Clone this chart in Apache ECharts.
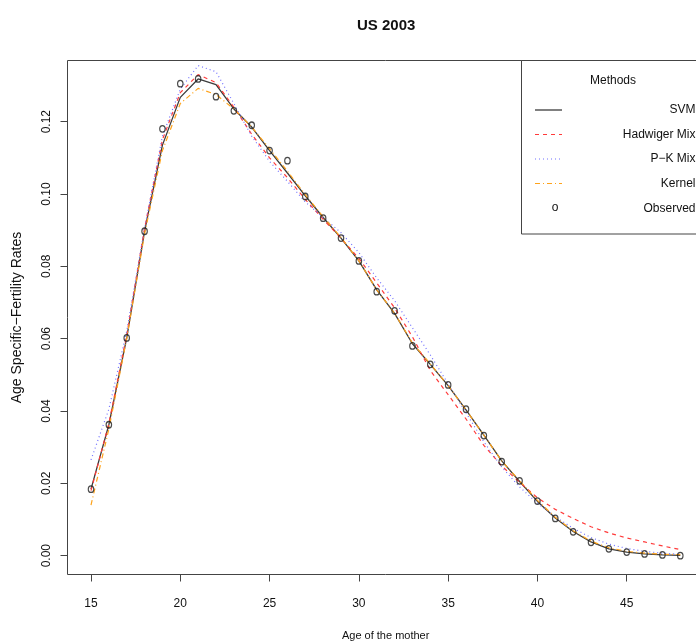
<!DOCTYPE html>
<html>
<head>
<meta charset="utf-8">
<title>US 2003</title>
<script src="https://cdn.jsdelivr.net/npm/echarts@6/dist/echarts.min.js"></script>
<style>
  html, body { margin: 0; padding: 0; background: #fff; overflow: hidden; }
  #chart { width: 720px; height: 643px; }
</style>
</head>
<body>
<div id="chart"></div>
<script>
// Age of the mother
const ages = [15, 16, 17, 18, 19, 20, 21, 22, 23, 24, 25, 26, 27, 28, 29, 30, 31,
              32, 33, 34, 35, 36, 37, 38, 39, 40, 41, 42, 43, 44, 45, 46, 47, 48];

// Observed age specific fertility rates
const observed = [0.0184, 0.0362, 0.0602, 0.0897, 0.1180, 0.1305, 0.1318, 0.1269, 0.1230,
                  0.1190, 0.1120, 0.1092, 0.0993, 0.0933, 0.0878, 0.0815, 0.0730, 0.0677,
                  0.0580, 0.0529, 0.0472, 0.0405, 0.0332, 0.0260, 0.0207, 0.0151, 0.0103,
                  0.0066, 0.0037, 0.0019, 0.0010, 0.0005, 0.0002, 0.0000];

// Fitted curves
const svm = [0.0184, 0.0362, 0.0602, 0.0897, 0.1135, 0.1267, 0.1318, 0.1302, 0.1235,
             0.1185, 0.1120, 0.1058, 0.0995, 0.0935, 0.0878, 0.0815, 0.0735, 0.0670,
             0.0586, 0.0529, 0.0470, 0.0403, 0.0333, 0.0262, 0.0205, 0.0150, 0.0104,
             0.0067, 0.0038, 0.0019, 0.0010, 0.0005, 0.0002, 0.0001];

const hadwiger = [0.0180, 0.0365, 0.0610, 0.0905, 0.1150, 0.1280, 0.1330, 0.1308, 0.1240,
                  0.1165, 0.1100, 0.1045, 0.0985, 0.0930, 0.0878, 0.0822, 0.0754, 0.0685,
                  0.0605, 0.0512, 0.0445, 0.0378, 0.0305, 0.0248, 0.0203, 0.0160, 0.0128,
                  0.0103, 0.0080, 0.0063, 0.0049, 0.0038, 0.0027, 0.0017];

const pkMix = [0.0265, 0.0405, 0.0620, 0.0905, 0.1160, 0.1290, 0.1355, 0.1338, 0.1250,
               0.1160, 0.1090, 0.1035, 0.0978, 0.0935, 0.0893, 0.0838, 0.0768, 0.0705,
               0.0630, 0.0555, 0.0475, 0.0395, 0.0315, 0.0245, 0.0190, 0.0145, 0.0107,
               0.0076, 0.0050, 0.0032, 0.0020, 0.0012, 0.0007, 0.0004];

const kernel = [0.0140, 0.0350, 0.0600, 0.0890, 0.1120, 0.1250, 0.1292, 0.1275, 0.1235,
                0.1185, 0.1125, 0.1063, 0.0998, 0.0937, 0.0880, 0.0815, 0.0735, 0.0670,
                0.0588, 0.0530, 0.0470, 0.0403, 0.0333, 0.0262, 0.0207, 0.0153, 0.0106,
                0.0069, 0.0040, 0.0022, 0.0012, 0.0007, 0.0004, 0.0003];

// Tick labels
const xTicks = [15, 20, 25, 30, 35, 40, 45];
const yTicks = [0, 0.02, 0.04, 0.06, 0.08, 0.10, 0.12];

const FONT = "'Liberation Sans', Arial, sans-serif";

const COLORS = {
  svm: '#3c3c3c',
  hadwiger: '#ff3a3a',
  pk: '#7070ff',
  kernel: '#ffa31a',
  point: '#1e1e1e'
};

const pairs = (ys) => ages.map((a, i) => [a, ys[i]]);

function lineSeries(name, ys, color, width, dash) {
  return {
    name: name,
    type: 'line',
    data: pairs(ys),
    showSymbol: false,
    symbol: 'none',
    smooth: false,
    silent: true,
    lineStyle: { color: color, width: width, type: dash, cap: 'butt' },
    z: 2
  };
}

// Legend box (R style: line samples at left, right-justified labels)
const LG_X = 521.5, LG_Y = 60.5;
const legendRows = [
  { label: 'SVM', y: 110, color: COLORS.svm, dash: 'solid', width: 1.3 },
  { label: 'Hadwiger Mix', y: 134.5, color: COLORS.hadwiger, dash: [4, 4], width: 1.2 },
  { label: 'P\u2212K Mix', y: 159, color: COLORS.pk, dash: [1, 3], width: 1.2 },
  { label: 'Kernel', y: 183.5, color: COLORS.kernel, dash: [5, 3, 1, 3], width: 1.2 }
];
const legendGraphics = [
  {
    type: 'rect',
    shape: { x: LG_X, y: LG_Y, width: 200, height: 173.5 },
    style: { fill: '#fff', stroke: '#444', lineWidth: 1 },
    z: 10
  },
  {
    type: 'text',
    x: 613, y: 81,
    style: { text: 'Methods', font: '12px ' + FONT, fill: '#111', align: 'center', verticalAlign: 'middle' },
    z: 11
  }
];
legendRows.forEach(r => {
  legendGraphics.push({
    type: 'line',
    shape: { x1: 535, y1: r.y, x2: 562, y2: r.y },
    style: { stroke: r.color, lineWidth: r.width, lineDash: r.dash === 'solid' ? null : r.dash },
    z: 11
  });
  legendGraphics.push({
    type: 'text',
    x: 695.5, y: r.y,
    style: { text: r.label, font: '12px ' + FONT, fill: '#111', align: 'right', verticalAlign: 'middle' },
    z: 11
  });
});
legendGraphics.push({
  type: 'text',
  x: 555, y: 208,
  style: { text: 'o', font: '12px ' + FONT, fill: '#111', align: 'center', verticalAlign: 'middle' },
  z: 11
});
legendGraphics.push({
  type: 'text',
  x: 695.5, y: 208.5,
  style: { text: 'Observed', font: '12px ' + FONT, fill: '#111', align: 'right', verticalAlign: 'middle' },
  z: 11
});

const chart = echarts.init(document.getElementById('chart'), null, { renderer: 'canvas' });

chart.setOption({
  backgroundColor: '#ffffff',
  animation: false,
  title: {
    text: 'US 2003',
    left: 357,
    top: 18,
    padding: 0,
    textStyle: { fontFamily: FONT, fontWeight: 'bold', fontSize: 15, color: '#111' }
  },
  grid: {
    left: 67.5,
    top: 60.5,
    right: 16.2,
    bottom: 68.5,
    containLabel: false,
    outerBoundsMode: 'none',
    show: true,
    borderColor: '#444',
    borderWidth: 1,
    backgroundColor: 'transparent'
  },
  xAxis: {
    type: 'value',
    min: 13.684,
    max: 49.316,
    axisLine: { show: false, onZero: false },
    splitLine: { show: false },
    axisTick: {
      show: true, inside: false, length: 7,
      customValues: xTicks,
      lineStyle: { color: '#444', width: 1 }
    },
    axisLabel: {
      customValues: xTicks,
      margin: 23,
      fontFamily: FONT,
      fontSize: 12,
      color: '#111'
    },
    name: 'Age of the mother',
    nameLocation: 'middle',
    nameGap: 56,
    nameTextStyle: { fontFamily: FONT, fontSize: 11, color: '#111' }
  },
  yAxis: {
    type: 'value',
    min: -0.0052,
    max: 0.1369,
    axisLine: { show: false, onZero: false },
    splitLine: { show: false },
    axisTick: {
      show: true, inside: false, length: 7,
      customValues: yTicks,
      lineStyle: { color: '#444', width: 1 }
    },
    axisLabel: {
      customValues: yTicks,
      rotate: 90,
      margin: 15,
      fontFamily: FONT,
      fontSize: 12,
      color: '#111',
      formatter: v => v.toFixed(2)
    },
    name: 'Age Specific\u2212Fertility Rates',
    nameLocation: 'middle',
    nameRotate: 90,
    nameGap: 43,
    nameTextStyle: { fontFamily: FONT, fontSize: 14, color: '#111' }
  },
  series: [
    lineSeries('SVM', svm, COLORS.svm, 1.3, 'solid'),
    lineSeries('Hadwiger Mix', hadwiger, COLORS.hadwiger, 1.2, [4, 4]),
    lineSeries('P\u2212K Mix', pkMix, COLORS.pk, 1.2, [1, 3]),
    lineSeries('Kernel', kernel, COLORS.kernel, 1.2, [5, 3, 1, 3]),
    {
      name: 'Observed',
      type: 'scatter',
      data: pairs(observed),
      symbol: 'circle',
      symbolSize: [5.5, 6.5],
      silent: true,
      itemStyle: { color: 'rgba(255,255,255,0)', borderColor: COLORS.point, borderWidth: 1.2 },
      z: 3
    }
  ],
  graphic: legendGraphics
});
</script>
</body>
</html>
